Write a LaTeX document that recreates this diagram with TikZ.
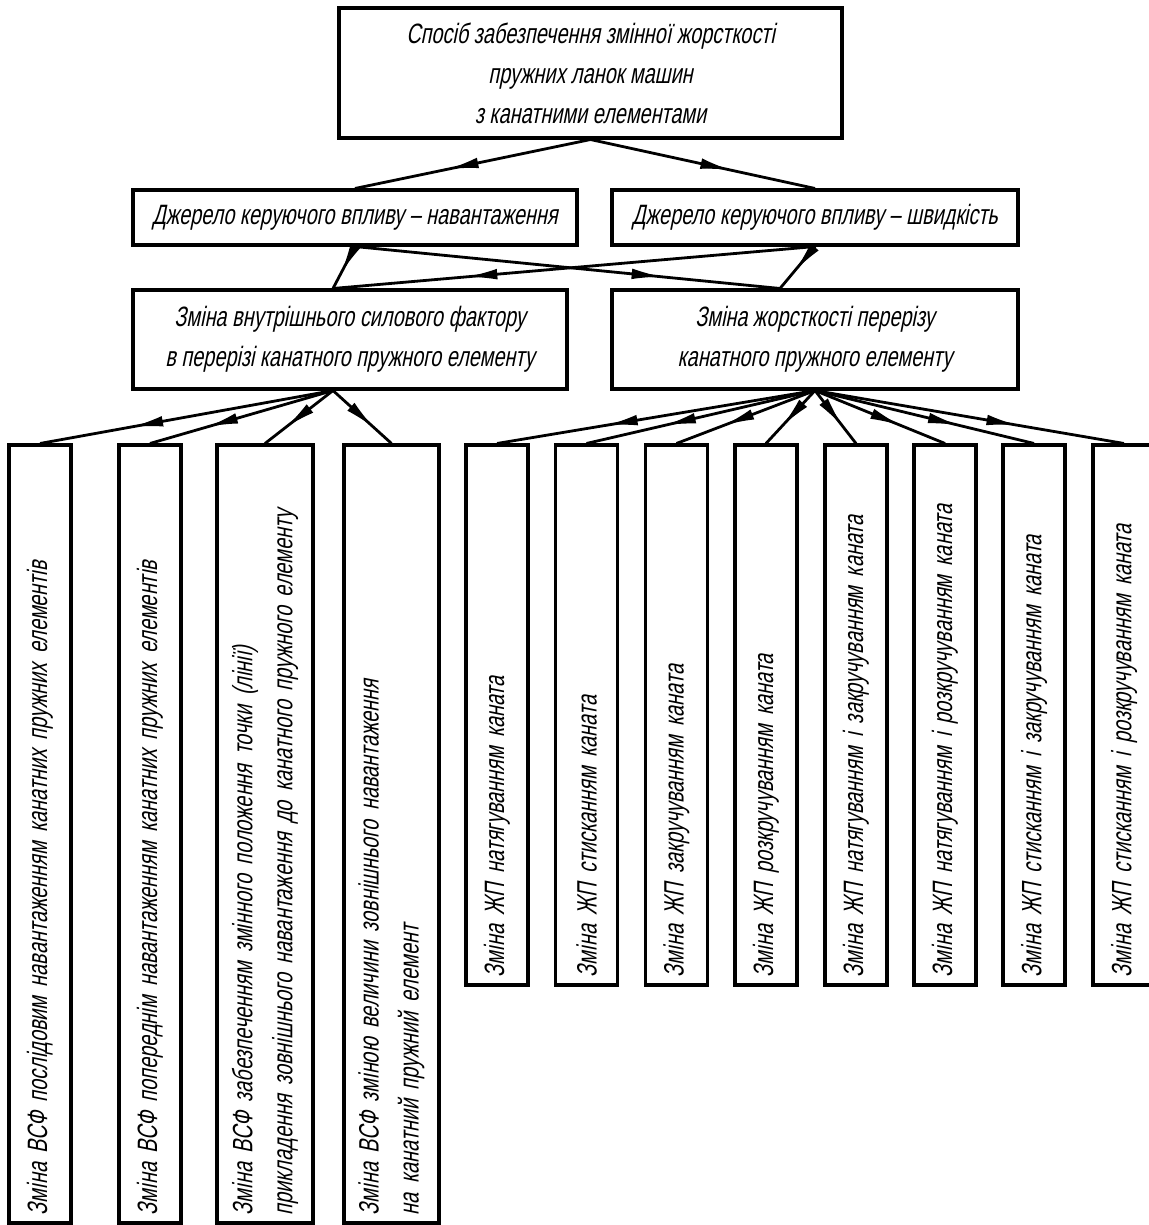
\documentclass[tikz,border=0pt]{standalone}
\usepackage{fontspec}
\setmainfont{Liberation Sans}[FakeStretch=0.71, FakeSlant=0.2]
\usetikzlibrary{arrows.meta,decorations.markings,calc}
\begin{document}
\begin{tikzpicture}[x=0.75pt,y=-0.75pt,
  txt/.style={font=\fontsize{21}{30}\selectfont},
  box/.style={draw, line width=2.3pt, inner sep=0pt, txt, align=center},
  vbox/.style={draw, line width=2.3pt, rotate=90, inner xsep=6pt, inner ysep=0pt, txt, align=left},
  conn/.style={line width=2.1pt, postaction={decorate},
    decoration={markings, mark=at position #1 with {\arrow[line width=1pt]{Latex[length=22pt,width=8pt]}}}},
]
\path[use as bounding box, fill=white] (0,0) rectangle (1149,1225);

% top
\node[box, minimum width=377.25pt, minimum height=97.5pt] (top) at (590.5,73)
  {Спосіб забезпечення змінної жорсткості\\ пружних ланок машин\\ з канатними елементами};

% level 2
\node[box, minimum width=333pt, minimum height=41.25pt] (l2a) at (355,217.5)
  {Джерело керуючого впливу – навантаження};
\node[box, minimum width=304.5pt, minimum height=41.25pt] (l2b) at (815,217.5)
  {Джерело керуючого впливу – швидкість};

% level 3
\node[box, minimum width=325.5pt, minimum height=74.25pt] (l3a) at (350,339.5)
  {Зміна внутрішнього силового фактору\\ в перерізі канатного пружного елементу};
\node[box, minimum width=304.5pt, minimum height=74.25pt] (l3b) at (815,339.5)
  {Зміна жорсткості перерізу\\ канатного пружного елементу};

\coordinate (p3a) at ($(l3a.north)+(-17,0)$);
\coordinate (q3a) at ($(l3a.south)+(-17,0)$);
\coordinate (p3b) at ($(l3b.north)+(-35,0)$);

% left group
\node[vbox, minimum width=583.5pt, minimum height=46.5pt, text width=571.5pt] (b1) at (40,834)
  {Зміна ВСФ послідовим навантаженням канатних пружних елементів};
\node[vbox, minimum width=583.5pt, minimum height=46.5pt, text width=571.5pt] (b2) at (150,834)
  {Зміна ВСФ попереднім навантаженням канатних пружних елементів};
\node[vbox, minimum width=583.5pt, minimum height=72pt, text width=571.5pt] (b3) at (265,834)
  {Зміна ВСФ забезпеченням змінного положення точки (лінії)\\прикладення зовнішнього навантаження до канатного пружного елементу};
\node[vbox, minimum width=583.5pt, minimum height=71.25pt, text width=571.5pt] (b4) at (391.5,834)
  {Зміна ВСФ зміною величини зовнішнього навантаження\\на канатний пружний елемент};

% right group
\node[vbox, minimum width=405pt, minimum height=46.5pt, text width=393pt] (r1) at (497,715)
  {Зміна ЖП натягуванням каната};
\node[vbox, minimum width=405pt, minimum height=46.5pt, text width=393pt] (r2) at (586.5,715)
  {Зміна ЖП стисканням каната};
\node[vbox, minimum width=405pt, minimum height=46.5pt, text width=393pt] (r3) at (676.5,715)
  {Зміна ЖП закручуванням каната};
\node[vbox, minimum width=405pt, minimum height=46.5pt, text width=393pt] (r4) at (766,715)
  {Зміна ЖП розкручуванням каната};
\node[vbox, minimum width=405pt, minimum height=46.5pt, text width=393pt] (r5) at (856,715)
  {Зміна ЖП натягуванням і закручуванням каната};
\node[vbox, minimum width=405pt, minimum height=46.5pt, text width=393pt] (r6) at (945,715)
  {Зміна ЖП натягуванням і розкручуванням каната};
\node[vbox, minimum width=405pt, minimum height=46.5pt, text width=393pt] (r7) at (1034,715)
  {Зміна ЖП стисканням і закручуванням каната};
\node[vbox, minimum width=405pt, minimum height=46.5pt, text width=393pt] (r8) at (1124,715)
  {Зміна ЖП стисканням і розкручуванням каната};

% connectors
\draw[conn=0.6] (top.south) -- (l2a.north);
\draw[conn=0.62] (top.south) -- (l2b.north);
\draw[conn=0.6] (l2a.south) -- (p3a);
\draw[conn=0.72] (l2a.south) -- (p3b);
\draw[conn=0.55] (l2b.south) -- (p3b);
\draw[conn=0.72] (l2b.south) -- (p3a);

\foreach \b in {b1,b2,b3,b4}
  \draw[conn=0.68] (q3a) -- (\b.east);
\foreach \r in {r1,r2,r3,r4,r5,r6,r7,r8}
  \draw[conn=0.65] (l3b.south) -- (\r.east);
\end{tikzpicture}
\end{document}
